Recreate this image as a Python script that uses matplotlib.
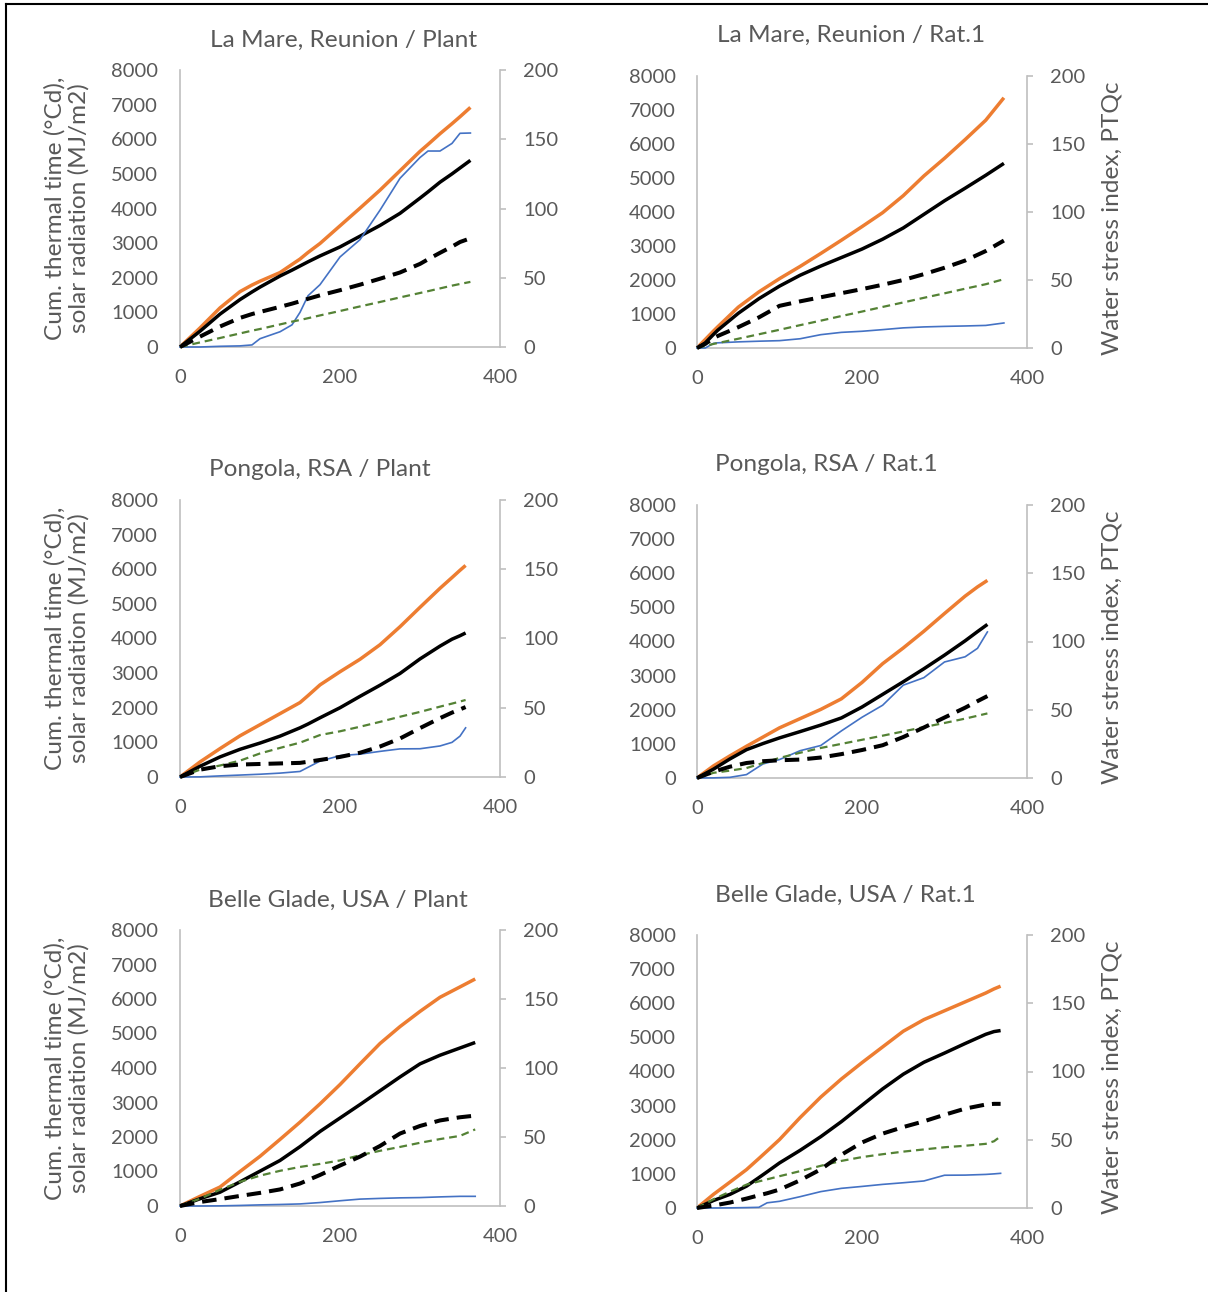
import matplotlib
matplotlib.use('Agg')
import matplotlib.pyplot as plt
from matplotlib.lines import Line2D

# ───────────────── data ─────────────────
# tt / rad on the left axis (°Cd, MJ/m2); ptq, ptq_ref, wsi on the right axis
LMP_DAYS = [0, 25, 50, 75, 90, 100, 125, 140, 150, 160, 175, 200, 225, 250, 275, 300, 310, 325, 340, 350, 363]
LMP_TT   = [0, 550, 1130, 1600, 1790, 1900, 2150, 2385, 2540, 2730, 2990, 3500, 4010, 4530, 5090, 5650, 5850, 6160, 6450, 6650, 6920]
LMP_RAD  = [0, 455, 950, 1370, 1590, 1730, 2050, 2220, 2340, 2460, 2630, 2890, 3200, 3510, 3860, 4300, 4480, 4760, 5000, 5170, 5390]
LMP_PTQ  = [0, 7.5, 14.8, 21, 23.8, 25.3, 29, 31.3, 33, 34.8, 37.3, 41, 45, 49.3, 53.8, 60, 63.3, 68, 72.5, 75.8, 78.5]
LMP_REF  = [0, 3.3, 6.5, 9.8, 11.8, 13, 16.3, 18.3, 19.5, 20.8, 22.8, 26, 29.3, 32.5, 35.8, 39, 40.3, 42.3, 44.3, 45.5, 47]
LMP_WSI  = [0, 0, 0.5, 0.8, 1.5, 6, 11, 16, 25, 37, 45, 65, 77.5, 98.8, 121.8, 136.8, 141.5, 141.5, 147, 154.3, 154.5]

LMR_DAYS = [0, 10, 20, 25, 50, 75, 100, 125, 150, 175, 200, 225, 250, 275, 300, 325, 350, 372]
LMR_TT   = [0, 250, 500, 620, 1200, 1650, 2040, 2400, 2780, 3170, 3570, 3980, 4480, 5060, 5580, 6130, 6700, 7360]
LMR_RAD  = [0, 150, 400, 520, 1020, 1450, 1820, 2140, 2410, 2660, 2910, 3200, 3530, 3930, 4330, 4700, 5080, 5430]
LMR_PTQ  = [0, 3, 7.3, 8.8, 15.3, 22.5, 31, 34.3, 37.3, 40.3, 43.3, 46.5, 50, 54.3, 59, 64.3, 71.3, 79]
LMR_REF  = [0, 1.5, 3, 3.6, 6.8, 10.1, 13.4, 16.8, 20.1, 23.5, 26.8, 30.2, 33.5, 36.9, 40.2, 43.6, 46.9, 50.6]
LMR_WSI  = [0, 0, 3.4, 3.8, 4.5, 5, 5.4, 6.8, 9.8, 11.5, 12.3, 13.5, 14.8, 15.5, 15.9, 16.2, 16.6, 18.4]

PGP_DAYS = [0, 25, 50, 75, 100, 125, 150, 160, 175, 200, 225, 250, 275, 300, 325, 340, 350, 357]
PGP_TT   = [0, 435, 820, 1190, 1510, 1830, 2150, 2350, 2660, 3040, 3400, 3820, 4340, 4900, 5450, 5760, 5970, 6110]
PGP_RAD  = [0, 310, 580, 800, 980, 1180, 1420, 1530, 1710, 2000, 2330, 2650, 2990, 3410, 3780, 3980, 4080, 4160]
PGP_PTQ  = [0, 5.3, 7.8, 9, 9.4, 9.8, 10.2, 11, 12.3, 14.5, 17.5, 22, 27.8, 35.3, 42.5, 46.5, 48.8, 50.5]
PGP_REF  = [0, 5.3, 8.3, 11.8, 17, 21, 24.8, 27, 30.3, 33, 36.3, 39.8, 43.5, 47, 50.8, 53, 54.5, 55.6]
PGP_WSI  = [0, 0.1, 0.8, 1.4, 2, 2.8, 4, 7, 11.5, 15.4, 16.5, 18.5, 20.3, 20.4, 22.4, 25, 29.5, 35.5]

PGR_DAYS = [0, 20, 40, 60, 80, 100, 125, 150, 175, 200, 225, 250, 275, 300, 325, 340, 352]
PGR_TT   = [0, 355, 650, 930, 1200, 1470, 1740, 2010, 2320, 2800, 3350, 3810, 4300, 4820, 5330, 5600, 5790]
PGR_RAD  = [0, 260, 560, 830, 1010, 1175, 1360, 1550, 1760, 2080, 2450, 2820, 3200, 3600, 4020, 4290, 4500]
PGR_PTQ  = [0, 4.6, 8.3, 11, 12.3, 13, 13.5, 15, 17.5, 20.5, 24, 30, 37, 44.3, 51.5, 56.3, 60]
PGR_REF  = [0, 3.8, 5.4, 7.3, 11, 14.7, 18.5, 22, 25, 28, 31, 34.1, 37.3, 40.3, 43.5, 45.6, 47.3]
PGR_WSI  = [0, 0.1, 0.5, 2.5, 10.3, 13.5, 20, 23.8, 34.5, 44.5, 53.3, 68, 73.5, 85, 88.8, 95, 107]

BGP_DAYS = [0, 25, 50, 75, 100, 125, 150, 175, 200, 225, 250, 275, 300, 325, 350, 369]
BGP_TT   = [0, 280, 550, 1000, 1440, 1930, 2430, 2960, 3520, 4120, 4710, 5200, 5640, 6050, 6350, 6580]
BGP_RAD  = [0, 210, 400, 700, 1010, 1320, 1720, 2160, 2550, 2940, 3340, 3740, 4120, 4370, 4580, 4740]
BGP_PTQ  = [0, 2.9, 5, 7.3, 9.5, 12, 16.3, 22.5, 29.3, 35.8, 43.5, 52.5, 58, 62, 64.3, 65.5]
BGP_REF  = [0, 5.3, 11.8, 17.5, 22, 25.5, 28.3, 30.5, 33, 36.8, 40, 42.8, 45.8, 48.5, 50.8, 55.5]
BGP_WSI  = [0, 0, 0.1, 0.4, 0.8, 1.1, 1.5, 2.5, 3.8, 5, 5.5, 5.9, 6.1, 6.6, 7, 7]

BGR_DAYS = [0, 20, 40, 60, 75, 85, 100, 125, 150, 175, 200, 225, 250, 275, 300, 325, 350, 360, 368]
BGR_TT   = [0, 400, 760, 1125, 1450, 1670, 2005, 2650, 3250, 3780, 4260, 4720, 5180, 5520, 5780, 6040, 6300, 6420, 6500]
BGR_RAD  = [0, 220, 400, 640, 890, 1060, 1320, 1690, 2090, 2530, 3010, 3490, 3920, 4270, 4540, 4820, 5090, 5170, 5200]
BGR_PTQ  = [0, 1.8, 4, 6.9, 9.3, 10.8, 13.5, 20.3, 28.3, 39, 48, 54.5, 59.3, 63.5, 68.3, 72.8, 75.8, 76.3, 76.3]
BGR_REF  = [0, 6.4, 12, 17.1, 19.5, 21, 23.3, 27, 30.9, 34.5, 37.3, 39.4, 41.3, 42.9, 44.5, 45.6, 47, 48.9, 52.5]
BGR_WSI  = [0, 0, 0.1, 0.3, 0.5, 3.8, 4.9, 8.3, 12, 14.4, 15.8, 17.3, 18.5, 19.8, 24, 24.1, 24.6, 25, 25.4]

TITLES = ['La Mare, Reunion / Plant', 'La Mare, Reunion / Rat.1',
          'Pongola, RSA / Plant', 'Pongola, RSA / Rat.1',
          'Belle Glade, USA / Plant', 'Belle Glade, USA / Rat.1']
Y_LEFT = 'Cum. thermal time (°Cd),\nsolar radiation (MJ/m2)'
Y_RIGHT = 'Water stress index, PTQc'

# ───────────────── style ─────────────────
plt.rcParams['font.family'] = ['Lato', 'DejaVu Sans']
TXT, AXC = '#595959', '#bfbfbf'
FS, FS_LBL = 14.5, 17.6
W, H = 1208, 1292

# plot boxes in pixels: left, top, right, bottom ; title centre (x, y)
BOXES = [((180, 70, 500, 347), (344, 40)), ((697, 76, 1027, 348), (851, 35)),
         ((180, 500, 500, 777), (320, 470)), ((697, 505, 1027, 778), (826, 465)),
         ((180, 930, 500, 1206), (338, 900)), ((697, 935, 1027, 1208), (845, 895))]

SERIES = [
    (LMP_DAYS, LMP_TT, LMP_RAD, LMP_PTQ, LMP_REF, LMP_WSI),
    (LMR_DAYS, LMR_TT, LMR_RAD, LMR_PTQ, LMR_REF, LMR_WSI),
    (PGP_DAYS, PGP_TT, PGP_RAD, PGP_PTQ, PGP_REF, PGP_WSI),
    (PGR_DAYS, PGR_TT, PGR_RAD, PGR_PTQ, PGR_REF, PGR_WSI),
    (BGP_DAYS, BGP_TT, BGP_RAD, BGP_PTQ, BGP_REF, BGP_WSI),
    (BGR_DAYS, BGR_TT, BGR_RAD, BGR_PTQ, BGR_REF, BGR_WSI),
]


def _rect(l, t, r, b):
    return [l / W, 1 - b / H, (r - l) / W, (b - t) / H]


fig = plt.figure(figsize=(W / 100, H / 100), dpi=100)

for i, ((box, tpos), (d, tt, rad, ptq, ref, wsi)) in enumerate(zip(BOXES, SERIES)):
    left_col = i % 2 == 0
    ax = fig.add_axes(_rect(*box))
    ax2 = ax.twinx()

    # primary axis: thermal time + radiation
    ax.plot(d, tt, c='#ed7d31', lw=2.5, clip_on=False, solid_capstyle='butt')
    ax.plot(d, rad, c='black', lw=2.5, clip_on=False, solid_capstyle='butt')
    # secondary axis: water stress / PTQ series
    ax2.plot(d, wsi, c='#4472c4', lw=1.2, clip_on=False)
    ax2.plot(d, ref, c='#548235', lw=1.6, ls=(0, (3.5, 2.2)), clip_on=False)
    ax2.plot(d, ptq, c='black', lw=2.9, ls=(0, (3.6, 2.0)), clip_on=False)

    ax.set_xlim(0, 400); ax.set_ylim(0, 8000)
    ax.set_xticks([0, 200, 400]); ax.set_yticks(range(0, 8001, 1000))
    ax2.set_ylim(0, 200); ax2.set_yticks(range(0, 201, 50))

    for s in ('top', 'right'):
        ax.spines[s].set_visible(False)
    for s in ('top', 'left', 'bottom'):
        ax2.spines[s].set_visible(False)
    for s in ('left', 'bottom'):
        ax.spines[s].set_color(AXC); ax.spines[s].set_linewidth(1.2)
    ax2.spines['right'].set_color(AXC); ax2.spines['right'].set_linewidth(1.2)

    ax.tick_params(axis='y', length=0, pad=16 if left_col else 15, labelsize=FS, labelcolor=TXT)
    ax.tick_params(axis='x', length=0, pad=16, labelsize=FS, labelcolor=TXT)
    ax2.tick_params(axis='y', length=4.5, width=1.2, color=AXC, pad=12,
                    labelsize=FS, labelcolor=TXT)

    fig.text(tpos[0] / W, 1 - tpos[1] / H, TITLES[i], ha='center', va='center',
             fontsize=FS_LBL, color=TXT)

    l, t, r, b = box
    if left_col:
        fig.text(67 / W, 1 - (t + b) / 2 / H, Y_LEFT, rotation=90, ha='center',
                 va='center', fontsize=FS_LBL, color=TXT, linespacing=1.12,
                 multialignment='center')
    else:
        fig.text(1112 / W, 1 - ((t + b) / 2 + 6) / H, Y_RIGHT, rotation=90,
                 ha='center', va='center', fontsize=FS_LBL, color=TXT)

# border lines of the surrounding table cell
fig.add_artist(Line2D([6 / W, 6 / W], [0, 1 - 4 / H], color='black', lw=1.5))
fig.add_artist(Line2D([6 / W, 1], [1 - 4 / H, 1 - 4 / H], color='black', lw=1.5))

fig.savefig('out.png', dpi=100)
